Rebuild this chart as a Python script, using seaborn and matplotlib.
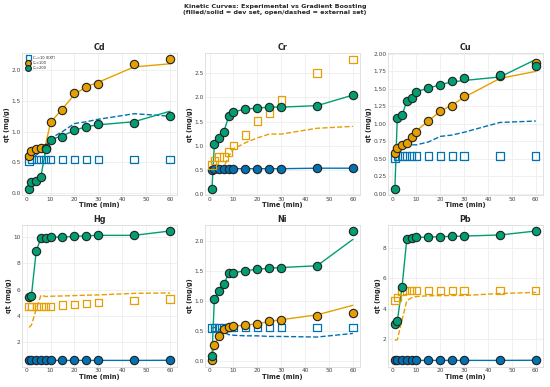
import matplotlib
matplotlib.use('Agg')
import matplotlib.pyplot as plt
import seaborn as sns
import pandas as pd

# Sampling times (min)
time = [1, 2, 4, 6, 8, 10, 15, 20, 25, 30, 45, 60]

# Experimental (exp) and Gradient Boosting predictions (pred) per metal and C0
cd_10_exp = [0.52, 0.55, 0.55, 0.55, 0.55, 0.55, 0.55, 0.55, 0.55, 0.55, 0.55, 0.55]
cd_10_pred = [0.53, 0.56, 0.62, 0.68, 0.78, 0.89, 1.00, 1.13, 1.16, 1.20, 1.29, 1.25]
cd_100_exp = [0.61, 0.69, 0.72, 0.73, 0.74, 1.16, 1.35, 1.62, 1.72, 1.78, 2.10, 2.17]
cd_100_pred = [0.62, 0.68, 0.72, 0.74, 0.80, 1.15, 1.37, 1.60, 1.73, 1.80, 2.05, 2.10]
cd_200_exp = [0.07, 0.18, 0.20, 0.27, 0.72, 0.86, 0.92, 1.02, 1.07, 1.12, 1.14, 1.25]
cd_200_pred = [0.07, 0.18, 0.20, 0.28, 0.70, 0.87, 0.93, 1.02, 1.08, 1.11, 1.16, 1.33]

cr_10_exp = [0.50, 0.52, 0.52, 0.52, 0.52, 0.52, 0.52, 0.52, 0.52, 0.52, 0.53, 0.53]
cr_10_pred = [0.50, 0.52, 0.52, 0.52, 0.52, 0.52, 0.52, 0.52, 0.52, 0.52, 0.53, 0.53]
cr_100_exp = [0.60, 0.69, 0.76, 0.76, 0.87, 1.00, 1.22, 1.51, 1.68, 1.95, 2.51, 2.79]
cr_100_pred = [0.50, 0.52, 0.53, 0.56, 0.78, 0.93, 1.06, 1.16, 1.24, 1.24, 1.36, 1.40]
cr_200_exp = [0.10, 1.03, 1.15, 1.29, 1.61, 1.70, 1.76, 1.78, 1.80, 1.80, 1.83, 2.05]
cr_200_pred = [0.10, 1.03, 1.15, 1.29, 1.61, 1.70, 1.76, 1.78, 1.80, 1.80, 1.83, 2.05]

cu_10_exp = [0.51, 0.54, 0.54, 0.54, 0.54, 0.54, 0.54, 0.54, 0.54, 0.54, 0.54, 0.54]
cu_10_pred = [0.55, 0.62, 0.68, 0.69, 0.70, 0.70, 0.74, 0.82, 0.84, 0.88, 1.02, 1.04]
cu_100_exp = [0.59, 0.66, 0.70, 0.73, 0.81, 0.88, 1.04, 1.18, 1.26, 1.40, 1.68, 1.87]
cu_100_pred = [0.59, 0.66, 0.70, 0.73, 0.81, 0.90, 1.04, 1.18, 1.27, 1.38, 1.65, 1.75]
cu_200_exp = [0.07, 1.08, 1.12, 1.33, 1.37, 1.46, 1.51, 1.56, 1.61, 1.65, 1.70, 1.82]
cu_200_pred = [0.07, 1.08, 1.12, 1.33, 1.37, 1.46, 1.51, 1.56, 1.60, 1.62, 1.67, 1.92]

hg_10_exp = [0.61, 0.61, 0.61, 0.61, 0.61, 0.61, 0.61, 0.61, 0.61, 0.61, 0.61, 0.62]
hg_10_pred = [0.61, 0.61, 0.61, 0.61, 0.61, 0.61, 0.61, 0.61, 0.61, 0.61, 0.61, 0.62]
hg_100_exp = [4.74, 4.74, 4.74, 4.74, 4.74, 4.74, 4.82, 4.89, 4.97, 5.02, 5.17, 5.30]
hg_100_pred = [3.12, 3.30, 4.50, 5.58, 5.48, 5.50, 5.52, 5.55, 5.58, 5.60, 5.72, 5.75]
hg_200_exp = [5.43, 5.55, 8.94, 9.96, 9.96, 10.01, 10.01, 10.06, 10.11, 10.14, 10.14, 10.47]
hg_200_pred = [5.43, 5.55, 8.94, 9.96, 9.96, 10.01, 10.01, 10.06, 10.11, 10.14, 10.14, 10.47]

ni_10_exp = [0.55, 0.56, 0.56, 0.56, 0.56, 0.56, 0.56, 0.56, 0.56, 0.56, 0.56, 0.56]
ni_10_pred = [0.55, 0.56, 0.53, 0.48, 0.44, 0.43, 0.42, 0.42, 0.41, 0.41, 0.40, 0.46]
ni_100_exp = [0.01, 0.27, 0.42, 0.54, 0.56, 0.58, 0.60, 0.62, 0.66, 0.69, 0.75, 0.80]
ni_100_pred = [0.01, 0.27, 0.42, 0.54, 0.56, 0.58, 0.60, 0.62, 0.66, 0.69, 0.77, 0.93]
ni_200_exp = [0.08, 1.04, 1.17, 1.28, 1.47, 1.47, 1.51, 1.53, 1.55, 1.56, 1.59, 2.17]
ni_200_pred = [0.08, 1.04, 1.17, 1.28, 1.47, 1.47, 1.51, 1.53, 1.55, 1.56, 1.59, 2.03]

pb_10_exp = [0.61, 0.61, 0.61, 0.61, 0.61, 0.61, 0.61, 0.61, 0.61, 0.61, 0.61, 0.62]
pb_10_pred = [0.61, 0.61, 0.61, 0.61, 0.61, 0.61, 0.61, 0.61, 0.61, 0.61, 0.61, 0.62]
pb_100_exp = [4.51, 4.73, 5.15, 5.19, 5.19, 5.19, 5.19, 5.19, 5.19, 5.19, 5.19, 5.19]
pb_100_pred = [1.94, 1.95, 3.25, 4.53, 4.71, 4.79, 4.84, 4.85, 4.86, 4.86, 4.99, 5.06]
pb_200_exp = [2.97, 3.17, 5.41, 8.57, 8.62, 8.66, 8.68, 8.71, 8.73, 8.75, 8.82, 9.08]
pb_200_pred = [2.97, 3.17, 5.41, 8.57, 8.62, 8.66, 8.68, 8.71, 8.73, 8.75, 8.82, 9.08]

metals = ['Cd', 'Cr', 'Cu', 'Hg', 'Ni', 'Pb']
concentrations = [10, 100, 200]
# which C0 was held out as the external set for each metal
external_c0 = {'Cd': 10, 'Cr': 100, 'Cu': 10, 'Hg': 100, 'Ni': 10, 'Pb': 100}
colors = {10: '#0072B2', 100: '#E69F00', 200: '#009E73'}

data = {
    'Cd': {10: (cd_10_exp, cd_10_pred), 100: (cd_100_exp, cd_100_pred), 200: (cd_200_exp, cd_200_pred)},
    'Cr': {10: (cr_10_exp, cr_10_pred), 100: (cr_100_exp, cr_100_pred), 200: (cr_200_exp, cr_200_pred)},
    'Cu': {10: (cu_10_exp, cu_10_pred), 100: (cu_100_exp, cu_100_pred), 200: (cu_200_exp, cu_200_pred)},
    'Hg': {10: (hg_10_exp, hg_10_pred), 100: (hg_100_exp, hg_100_pred), 200: (hg_200_exp, hg_200_pred)},
    'Ni': {10: (ni_10_exp, ni_10_pred), 100: (ni_100_exp, ni_100_pred), 200: (ni_200_exp, ni_200_pred)},
    'Pb': {10: (pb_10_exp, pb_10_pred), 100: (pb_100_exp, pb_100_pred), 200: (pb_200_exp, pb_200_pred)},
}

sns.set_theme(style='whitegrid')
plt.rcParams['axes.edgecolor'] = '#dddddd'
plt.rcParams['axes.linewidth'] = 0.6
plt.rcParams['grid.color'] = '#eeeeee'
plt.rcParams['grid.linewidth'] = 0.6

fig, axes = plt.subplots(2, 3, figsize=(5.5, 3.87), dpi=100)
fig.subplots_adjust(left=0.04, right=0.987, top=0.863, bottom=0.052, wspace=0.18, hspace=0.205)

for ax, metal in zip(axes.flat, metals):
    for c0 in concentrations:
        exp_vals, pred_vals = data[metal][c0]
        df = pd.DataFrame({'time': time, 'exp': exp_vals, 'pred': pred_vals})
        is_ext = external_c0[metal] == c0
        label = f'C\u2080={c0} (EXT)' if is_ext else f'C\u2080={c0}'
        sns.lineplot(data=df, x='time', y='pred', ax=ax, color=colors[c0],
                     linestyle='--' if is_ext else '-', linewidth=1.0, zorder=2)
        if is_ext:
            sns.scatterplot(data=df, x='time', y='exp', ax=ax, marker='s', s=28,
                            facecolor='none', edgecolor=colors[c0], linewidth=0.9,
                            label=label, zorder=3)
        else:
            sns.scatterplot(data=df, x='time', y='exp', ax=ax, marker='o', s=36,
                            color=colors[c0], edgecolor='#222222', linewidth=0.8,
                            label=label, zorder=3)
    ax.set_title(metal, fontsize=5.8, fontweight='bold', pad=2)
    ax.set_xlabel('Time (min)', fontsize=4.8, fontweight='bold', labelpad=0.5)
    ax.set_ylabel('qt (mg/g)', fontsize=4.8, fontweight='bold', labelpad=1)
    ax.set_xticks([0, 10, 20, 30, 40, 50, 60])
    ax.tick_params(labelsize=4.2, pad=1, length=0, colors='#444444')
    if metal == 'Cd':
        handles, labels = ax.get_legend_handles_labels()
        order = [labels.index('C\u2080=10 (EXT)'), labels.index('C\u2080=100'), labels.index('C\u2080=200')]
        ax.legend([handles[i] for i in order], [labels[i] for i in order],
                  loc='upper left', fontsize=2.6, frameon=False, markerscale=0.7,
                  handletextpad=0.3, borderaxespad=0.3, labelspacing=0.3)
    else:
        leg = ax.get_legend()
        if leg is not None:
            leg.remove()

fig.suptitle('Kinetic Curves: Experimental vs Gradient Boosting\n(filled/solid = dev set, open/dashed = external set)',
             fontsize=4.6, fontweight='bold', y=0.99)

plt.savefig('out.png', dpi=100)
